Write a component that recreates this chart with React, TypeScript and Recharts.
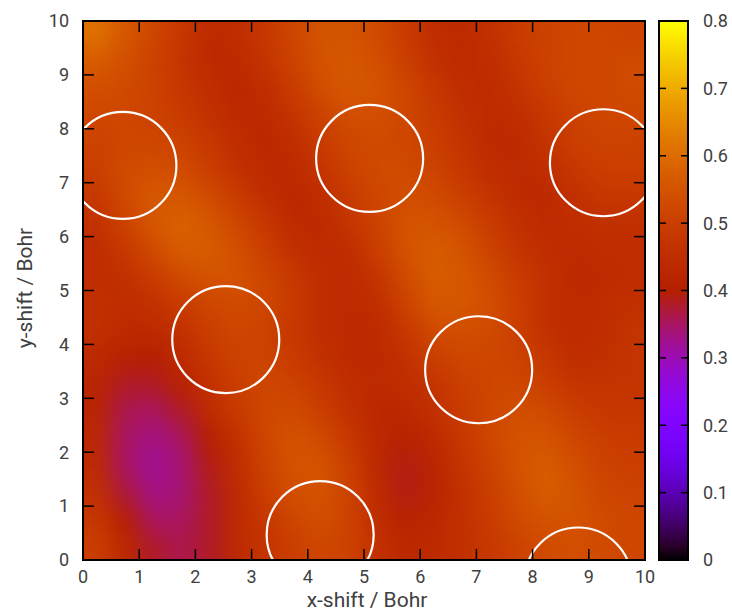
import { ScatterChart, Scatter, XAxis, YAxis, BarChart, Bar } from "recharts";

// cell centres of the sampled grid (Bohr)
const X_CENTERS = [0.25, 0.75, 1.25, 1.75, 2.25, 2.75, 3.25, 3.75, 4.25, 4.75, 5.25, 5.75, 6.25, 6.75, 7.25, 7.75, 8.25, 8.75, 9.25, 9.75];
const Y_CENTERS = [9.75, 9.25, 8.75, 8.25, 7.75, 7.25, 6.75, 6.25, 5.75, 5.25, 4.75, 4.25, 3.75, 3.25, 2.75, 2.25, 1.75, 1.25, 0.75, 0.25];

// energy map, one row per Y_CENTERS entry (top to bottom)
const HEAT_ROWS = [
  [0.61, 0.56, 0.52, 0.48, 0.44, 0.45, 0.48, 0.52, 0.55, 0.55, 0.53, 0.49, 0.45, 0.44, 0.46, 0.49, 0.51, 0.52, 0.52, 0.51],
  [0.57, 0.54, 0.51, 0.47, 0.44, 0.44, 0.47, 0.51, 0.55, 0.56, 0.54, 0.50, 0.46, 0.44, 0.45, 0.48, 0.51, 0.52, 0.52, 0.53],
  [0.54, 0.53, 0.51, 0.48, 0.45, 0.43, 0.45, 0.49, 0.54, 0.56, 0.55, 0.52, 0.48, 0.45, 0.44, 0.47, 0.50, 0.52, 0.52, 0.53],
  [0.52, 0.52, 0.51, 0.49, 0.46, 0.44, 0.44, 0.47, 0.51, 0.54, 0.54, 0.52, 0.49, 0.46, 0.44, 0.45, 0.48, 0.51, 0.52, 0.52],
  [0.51, 0.52, 0.52, 0.51, 0.48, 0.45, 0.43, 0.45, 0.49, 0.52, 0.53, 0.52, 0.50, 0.47, 0.44, 0.44, 0.47, 0.50, 0.51, 0.51],
  [0.50, 0.53, 0.54, 0.53, 0.50, 0.46, 0.44, 0.44, 0.47, 0.51, 0.53, 0.53, 0.51, 0.48, 0.45, 0.44, 0.45, 0.48, 0.50, 0.50],
  [0.48, 0.53, 0.56, 0.56, 0.53, 0.49, 0.45, 0.43, 0.45, 0.49, 0.52, 0.54, 0.53, 0.50, 0.47, 0.44, 0.44, 0.46, 0.48, 0.48],
  [0.46, 0.51, 0.56, 0.58, 0.56, 0.52, 0.48, 0.44, 0.44, 0.47, 0.51, 0.55, 0.55, 0.53, 0.49, 0.46, 0.44, 0.45, 0.46, 0.46],
  [0.45, 0.48, 0.53, 0.57, 0.57, 0.54, 0.50, 0.46, 0.44, 0.45, 0.50, 0.55, 0.57, 0.55, 0.51, 0.47, 0.45, 0.44, 0.45, 0.45],
  [0.45, 0.46, 0.49, 0.53, 0.55, 0.55, 0.52, 0.48, 0.45, 0.44, 0.47, 0.53, 0.57, 0.56, 0.53, 0.49, 0.46, 0.44, 0.44, 0.45],
  [0.46, 0.45, 0.46, 0.49, 0.52, 0.53, 0.52, 0.49, 0.45, 0.44, 0.45, 0.51, 0.56, 0.56, 0.54, 0.50, 0.46, 0.44, 0.45, 0.46],
  [0.46, 0.44, 0.44, 0.46, 0.50, 0.52, 0.51, 0.48, 0.45, 0.44, 0.44, 0.48, 0.53, 0.54, 0.53, 0.50, 0.46, 0.44, 0.45, 0.47],
  [0.44, 0.41, 0.40, 0.44, 0.48, 0.51, 0.51, 0.49, 0.46, 0.44, 0.44, 0.46, 0.50, 0.52, 0.52, 0.51, 0.48, 0.45, 0.46, 0.47],
  [0.42, 0.38, 0.38, 0.41, 0.46, 0.50, 0.52, 0.51, 0.48, 0.45, 0.44, 0.45, 0.47, 0.50, 0.52, 0.52, 0.50, 0.47, 0.47, 0.47],
  [0.42, 0.36, 0.35, 0.38, 0.44, 0.49, 0.52, 0.53, 0.50, 0.46, 0.43, 0.43, 0.46, 0.49, 0.52, 0.54, 0.53, 0.50, 0.48, 0.48],
  [0.43, 0.35, 0.33, 0.35, 0.40, 0.46, 0.52, 0.55, 0.53, 0.48, 0.43, 0.41, 0.44, 0.48, 0.52, 0.55, 0.55, 0.52, 0.50, 0.49],
  [0.44, 0.35, 0.32, 0.34, 0.39, 0.45, 0.51, 0.55, 0.55, 0.50, 0.43, 0.39, 0.42, 0.47, 0.51, 0.55, 0.57, 0.54, 0.51, 0.50],
  [0.46, 0.37, 0.33, 0.34, 0.38, 0.44, 0.50, 0.54, 0.55, 0.51, 0.44, 0.39, 0.42, 0.46, 0.50, 0.54, 0.57, 0.55, 0.52, 0.51],
  [0.48, 0.40, 0.35, 0.35, 0.38, 0.44, 0.48, 0.52, 0.54, 0.51, 0.45, 0.41, 0.43, 0.46, 0.49, 0.53, 0.55, 0.55, 0.53, 0.52],
  [0.50, 0.43, 0.38, 0.36, 0.38, 0.44, 0.47, 0.50, 0.52, 0.51, 0.46, 0.43, 0.44, 0.46, 0.48, 0.51, 0.53, 0.54, 0.53, 0.52],
];

// atom positions drawn as rings
const RING_X = [0.71, 5.1, 9.26, 2.54, 7.04, 4.22, 8.81];
const RING_Y = [7.32, 7.45, 7.37, 4.09, 3.53, 0.47, -0.39];

const AXIS_TICKS = [0, 1, 2, 3, 4, 5, 6, 7, 8, 9, 10];
const CB_TICKS = [0, 0.1, 0.2, 0.3, 0.4, 0.5, 0.6, 0.7, 0.8];
const CB_MAX = 0.8;

const W = 732;
const H = 613;
const PLOT = { left: 83, top: 21, right: 645, bottom: 560 };
const PW = PLOT.right - PLOT.left;
const PH = PLOT.bottom - PLOT.top;
const CELL_W = PW / X_CENTERS.length;
const CELL_H = PH / Y_CENTERS.length;
const CB = { left: 659, right: 688 };
const RING_R = 53.5;
const FONT = "Roboto, 'Noto Sans', sans-serif";
const TEXT = "#404040";
const TICK_FS = 18;
const TITLE_FS = 21;
const TICK_LEN = 11;
const AX = 1; // axis thickness reserved in the layout

// gnuplot default pm3d palette (rgbformulae 7,5,15)
const palette = (v: number) => {
  const t = Math.min(1, Math.max(0, v / CB_MAX));
  const r = Math.sqrt(t);
  const g = t ** 3;
  const b = Math.max(0, Math.sin(2 * Math.PI * t));
  return `rgb(${Math.round(r * 255)},${Math.round(g * 255)},${Math.round(b * 255)})`;
};

const heatData = Y_CENTERS.flatMap((y, i) => X_CENTERS.map((x, j) => ({ x, y, v: HEAT_ROWS[i][j] })));
const ringData = RING_X.map((x, i) => ({ x, y: RING_Y[i] }));
const cbData = [{ name: "cb", v: CB_MAX }];
const cbStops = Array.from({ length: 41 }, (_, i) => i / 40);

const margin = { top: PLOT.top, left: PLOT.left, right: W - PLOT.right, bottom: H - PLOT.bottom };
const axisMargin = {
  top: PLOT.top - AX,
  left: PLOT.left - AX,
  right: W - PLOT.right - AX,
  bottom: H - PLOT.bottom - AX,
};

const layer = { position: "absolute" as const, top: 0, left: 0 };

const XTick = ({ x, payload }: any) => (
  <g>
    <line x1={x} y1={PLOT.bottom} x2={x} y2={PLOT.bottom - TICK_LEN} stroke="#000" strokeWidth={1.5} />
    <text x={x} y={583} textAnchor="middle" fontSize={TICK_FS} fontFamily={FONT} fill={TEXT}>
      {payload.value}
    </text>
  </g>
);

const TopTick = ({ x }: any) => (
  <line x1={x} y1={PLOT.top} x2={x} y2={PLOT.top + TICK_LEN} stroke="#000" strokeWidth={1.5} />
);

const YTick = ({ y, payload }: any) => (
  <g>
    <line x1={PLOT.left} y1={y} x2={PLOT.left + TICK_LEN} y2={y} stroke="#000" strokeWidth={1.5} />
    <text x={69} y={y} dy="0.355em" textAnchor="end" fontSize={TICK_FS} fontFamily={FONT} fill={TEXT}>
      {payload.value}
    </text>
  </g>
);

const RightTick = ({ y }: any) => (
  <line x1={PLOT.right} y1={y} x2={PLOT.right - TICK_LEN} y2={y} stroke="#000" strokeWidth={1.5} />
);

const CbTick = ({ y, payload }: any) => (
  <g>
    <line x1={CB.right} y1={y} x2={CB.right - 7} y2={y} stroke="#000" strokeWidth={1.5} />
    <line x1={CB.left} y1={y} x2={CB.left + 7} y2={y} stroke="#000" strokeWidth={1.5} />
    <text x={703} y={y} dy="0.355em" textAnchor="start" fontSize={TICK_FS} fontFamily={FONT} fill={TEXT}>
      {payload.value}
    </text>
  </g>
);

const Y_TITLE_X = 32;
const Y_TITLE_Y = 288;

export default function App() {
  return (
    <div style={{ position: "absolute", top: 0, left: 0, width: W, height: H, background: "#fff" }}>
      <style>{`
        .heat-layer { filter: url(#heatSmooth); clip-path: url(#plotClip); }
        .ring-layer { clip-path: url(#plotClip); }
      `}</style>
      <svg width={0} height={0} style={{ position: "absolute" }}>
        <defs>
          <filter id="heatSmooth" filterUnits="userSpaceOnUse" x={0} y={0} width={W} height={H} colorInterpolationFilters="sRGB">
            <feGaussianBlur stdDeviation={11} />
            <feComponentTransfer>
              <feFuncA type="table" tableValues="1 1" />
            </feComponentTransfer>
          </filter>
          <clipPath id="plotClip" clipPathUnits="userSpaceOnUse">
            <rect x={PLOT.left} y={PLOT.top} width={PW} height={PH} />
          </clipPath>
          <linearGradient id="cbGrad" x1={0} y1={1} x2={0} y2={0}>
            {cbStops.map((t) => (
              <stop key={t} offset={t} stopColor={palette(t * CB_MAX)} />
            ))}
          </linearGradient>
        </defs>
      </svg>

      {/* heat map */}
      <div style={layer}>
        <ScatterChart width={W} height={H} margin={margin}>
          <XAxis type="number" dataKey="x" domain={[0, 10]} allowDataOverflow hide />
          <YAxis type="number" dataKey="y" domain={[0, 10]} allowDataOverflow hide />
          <Scatter
            className="heat-layer"
            data={heatData}
            isAnimationActive={false}
            shape={(p: any) => (
              <rect
                x={p.cx - CELL_W / 2 - 0.5}
                y={p.cy - CELL_H / 2 - 0.5}
                width={CELL_W + 1}
                height={CELL_H + 1}
                fill={palette(p.payload.v)}
              />
            )}
          />
        </ScatterChart>
      </div>

      {/* ticks and rings */}
      <div style={layer}>
        <ScatterChart width={W} height={H} margin={axisMargin}>
          <XAxis
            xAxisId="b"
            type="number"
            dataKey="x"
            domain={[0, 10]}
            ticks={AXIS_TICKS}
            allowDataOverflow
            height={AX}
            tickLine={false}
            axisLine={false}
            tick={<XTick />}
            interval={0}
          />
          <XAxis
            xAxisId="t"
            orientation="top"
            type="number"
            dataKey="x"
            domain={[0, 10]}
            ticks={AXIS_TICKS}
            allowDataOverflow
            height={AX}
            tickLine={false}
            axisLine={false}
            tick={<TopTick />}
            interval={0}
          />
          <YAxis
            yAxisId="l"
            type="number"
            dataKey="y"
            domain={[0, 10]}
            ticks={AXIS_TICKS}
            allowDataOverflow
            width={AX}
            tickLine={false}
            axisLine={false}
            tick={<YTick />}
            interval={0}
          />
          <YAxis
            yAxisId="r"
            orientation="right"
            type="number"
            dataKey="y"
            domain={[0, 10]}
            ticks={AXIS_TICKS}
            allowDataOverflow
            width={AX}
            tickLine={false}
            axisLine={false}
            tick={<RightTick />}
            interval={0}
          />
          <Scatter
            className="ring-layer"
            xAxisId="b"
            yAxisId="l"
            data={ringData}
            isAnimationActive={false}
            shape={(p: any) => <circle cx={p.cx} cy={p.cy} r={RING_R} fill="none" stroke="#fff" strokeWidth={2.2} />}
          />
        </ScatterChart>
      </div>

      {/* colour box */}
      <div style={layer}>
        <BarChart
          width={W}
          height={H}
          data={cbData}
          margin={{ top: PLOT.top, bottom: H - PLOT.bottom, left: CB.left, right: W - CB.right - AX }}
          barCategoryGap={0}
        >
          <XAxis dataKey="name" hide />
          <YAxis
            orientation="right"
            type="number"
            domain={[0, CB_MAX]}
            ticks={CB_TICKS}
            width={AX}
            tickLine={false}
            axisLine={false}
            tick={<CbTick />}
            interval={0}
          />
          <Bar dataKey="v" fill="url(#cbGrad)" stroke="#000" strokeWidth={2} isAnimationActive={false} />
        </BarChart>
      </div>

      {/* plot frame and axis titles */}
      <svg width={W} height={H} style={{ ...layer, pointerEvents: "none" }}>
        <rect x={PLOT.left} y={PLOT.top} width={PW} height={PH} fill="none" stroke="#000" strokeWidth={2} />
        <text x={367} y={607} textAnchor="middle" fontSize={TITLE_FS} fontFamily={FONT} fill={TEXT}>
          x-shift / Bohr
        </text>
        <text
          x={Y_TITLE_X}
          y={Y_TITLE_Y}
          textAnchor="middle"
          transform={`rotate(-90, ${Y_TITLE_X}, ${Y_TITLE_Y})`}
          fontSize={TITLE_FS}
          fontFamily={FONT}
          fill={TEXT}
        >
          y-shift / Bohr
        </text>
      </svg>
    </div>
  );
}
